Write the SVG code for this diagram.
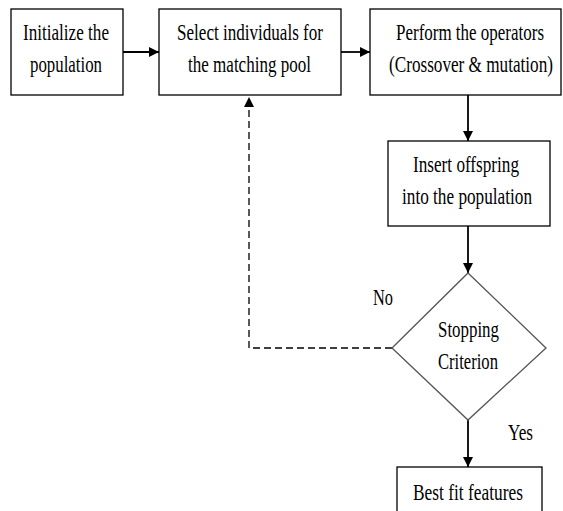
<svg xmlns="http://www.w3.org/2000/svg" width="563" height="511" viewBox="0 0 563 511">
<defs>
<marker id="ah" markerUnits="userSpaceOnUse" markerWidth="10" markerHeight="10" viewBox="0 0 10 10" refX="10" refY="5" orient="auto">
<path d="M0,0 L10,5 L0,10 z" fill="#000"/>
</marker>
<style>
.box{fill:#fff;stroke:#000;stroke-width:1.3}
.dia{fill:#fff;stroke:#555;stroke-width:1.3}
.t{font-family:"Liberation Serif","Times New Roman",serif;font-size:17.5px;fill:#000;text-anchor:start}
.c{fill:none;stroke:#000;stroke-width:1.8}
.d{fill:none;stroke:#000;stroke-width:1.3;stroke-dasharray:7,4}
</style>
</defs>
<rect width="563" height="511" fill="#fff"/>
<g id="connectors">
<line class="c" x1="123" y1="52" x2="159" y2="52" marker-end="url(#ah)"/>
<line class="c" x1="341" y1="52" x2="370" y2="52" marker-end="url(#ah)"/>
<line class="c" x1="468" y1="95" x2="468" y2="141" marker-end="url(#ah)"/>
<line class="c" x1="468" y1="226" x2="468" y2="273" marker-end="url(#ah)"/>
<line class="c" x1="468" y1="420" x2="468" y2="467" marker-end="url(#ah)"/>
<polyline class="d" points="392,348 249,348 249,97" marker-end="url(#ah)"/>
</g>
<g id="init">
<rect class="box" x="11" y="9" width="112" height="86"/>
<text class="t" transform="translate(23,40) scale(1,1.3)" textLength="86" lengthAdjust="spacingAndGlyphs">Initialize the</text>
<text class="t" transform="translate(30,72) scale(1,1.3)" textLength="72" lengthAdjust="spacingAndGlyphs">population</text>
</g>
<g id="select">
<rect class="box" x="159" y="9" width="182" height="86"/>
<text class="t" transform="translate(177,40) scale(1,1.3)" textLength="146" lengthAdjust="spacingAndGlyphs">Select individuals for</text>
<text class="t" transform="translate(188,72) scale(1,1.3)" textLength="123" lengthAdjust="spacingAndGlyphs">the matching pool</text>
</g>
<g id="perform">
<rect class="box" x="370" y="9" width="191" height="86"/>
<text class="t" transform="translate(396,40) scale(1,1.3)" textLength="148" lengthAdjust="spacingAndGlyphs">Perform the operators</text>
<text class="t" transform="translate(389,72) scale(1,1.3)" textLength="164" lengthAdjust="spacingAndGlyphs">(Crossover &amp; mutation)</text>
</g>
<g id="insert">
<rect class="box" x="388" y="141" width="162" height="85"/>
<text class="t" transform="translate(413,172) scale(1,1.3)" textLength="106" lengthAdjust="spacingAndGlyphs">Insert offspring</text>
<text class="t" transform="translate(402,204) scale(1,1.3)" textLength="130" lengthAdjust="spacingAndGlyphs">into the population</text>
</g>
<g id="stop">
<polygon class="dia" points="468,273 546,348 468,420 392,348"/>
<text class="t" transform="translate(438,337) scale(1,1.3)" textLength="61" lengthAdjust="spacingAndGlyphs">Stopping</text>
<text class="t" transform="translate(438,369) scale(1,1.3)" textLength="60" lengthAdjust="spacingAndGlyphs">Criterion</text>
</g>
<g id="best">
<rect class="box" x="397" y="467" width="145" height="60"/>
<text class="t" transform="translate(413,500) scale(1,1.3)" textLength="110" lengthAdjust="spacingAndGlyphs">Best fit features</text>
</g>
<g id="labels">
<text class="t" transform="translate(373,305) scale(1,1.3)" textLength="20" lengthAdjust="spacingAndGlyphs">No</text>
<text class="t" transform="translate(508,440) scale(1,1.3)" textLength="25" lengthAdjust="spacingAndGlyphs">Yes</text>
</g>
</svg>
